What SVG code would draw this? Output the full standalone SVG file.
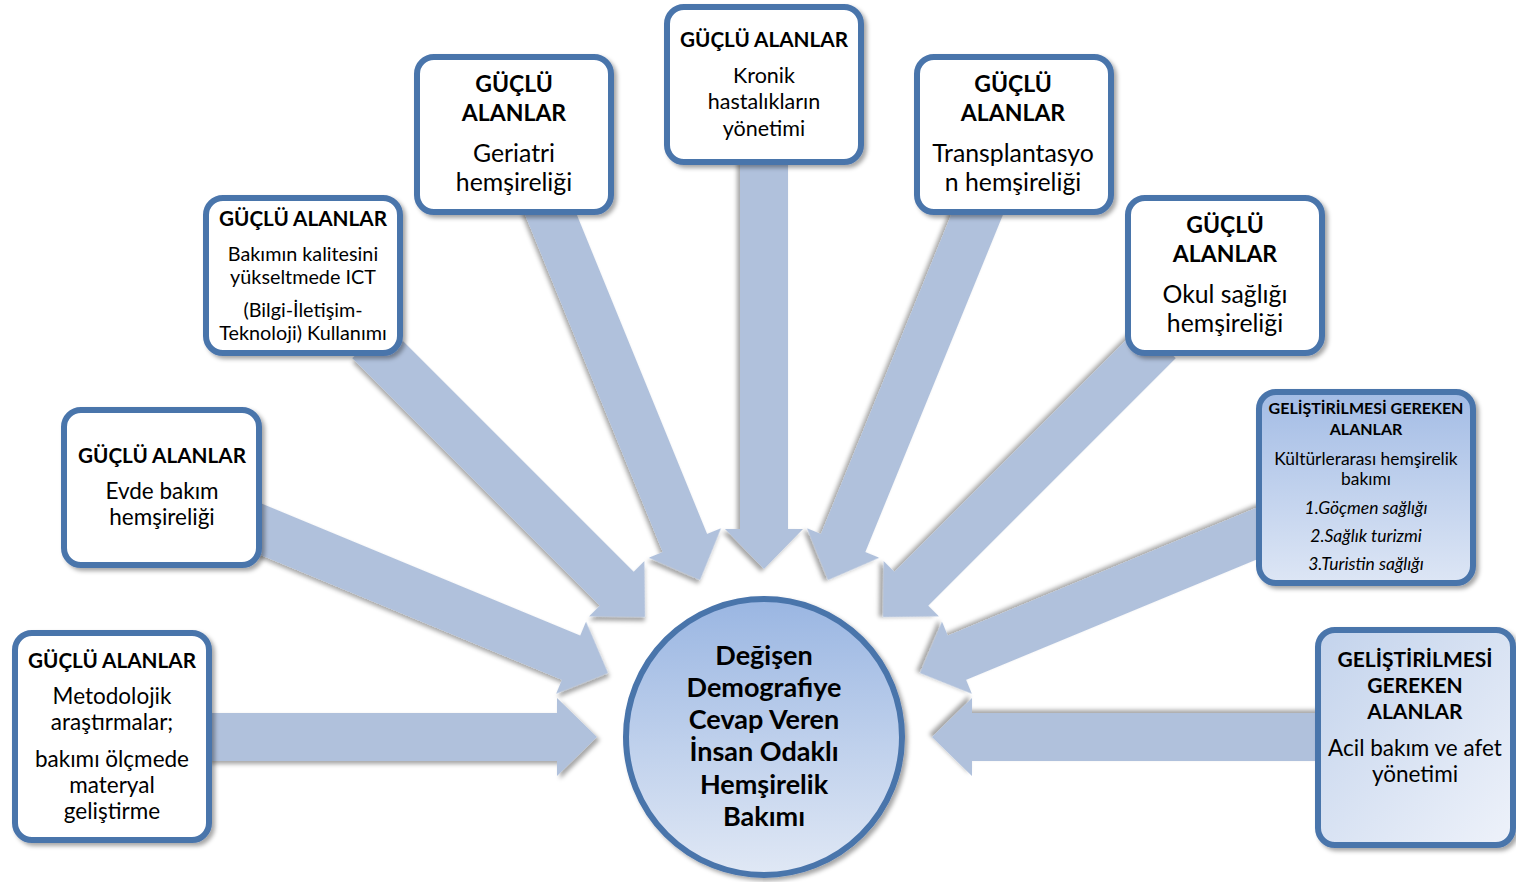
<svg xmlns="http://www.w3.org/2000/svg" width="1516" height="882" viewBox="0 0 1516 882">
<style>
.arrow{fill:#b0c1dc;filter:url(#sh)}
.box{fill:#ffffff;stroke:#4a74ab;stroke-width:6;filter:url(#sh)}
text{font-family:Lato,"Liberation Sans",sans-serif;fill:#000;text-anchor:middle}
.h{font-weight:bold;font-size:20.7px}
.hb{font-weight:bold;font-size:23px}
.t{font-size:22.5px}
.tl{font-size:24.8px}
.ts{font-size:19.8px}
.tk{font-size:21.5px}
.s8{font-size:17.4px}
.s8b{font-size:16px;font-weight:bold}
.i{font-style:italic;font-size:17.5px}
.c{font-weight:bold;font-size:27px}
</style>
<defs>
<filter id="sh" x="-10%" y="-10%" width="130%" height="130%">
<feDropShadow dx="3" dy="3" stdDeviation="2" flood-color="#000" flood-opacity="0.35"/>
</filter>
<linearGradient id="gc" x1="0" y1="0" x2="0" y2="1">
<stop offset="0" stop-color="#9ab6e2"/>
<stop offset="1" stop-color="#e0e8f5"/>
</linearGradient>
<linearGradient id="g8" x1="0" y1="0" x2="0" y2="1">
<stop offset="0" stop-color="#a3bce5"/>
<stop offset="1" stop-color="#dde6f5"/>
</linearGradient>
<linearGradient id="g9" x1="0" y1="0" x2="1" y2="1">
<stop offset="0" stop-color="#c3d3ec"/>
<stop offset="1" stop-color="#eef2fa"/>
</linearGradient>
</defs>
<rect width="1516" height="882" fill="#ffffff"/>
<g id="connectors">
<path class="arrow" transform="translate(597,737)" d="M0,0 L-40,-39 L-40,-24 L-390,-24 L-390,24 L-40,24 L-40,39 Z"/>
<path class="arrow" transform="translate(608,673) rotate(22.5)" d="M0,0 L-40,-39 L-40,-24 L-390,-24 L-390,24 L-40,24 L-40,39 Z"/>
<path class="arrow" transform="translate(645,617) rotate(45)" d="M0,0 L-40,-39 L-40,-24 L-390,-24 L-390,24 L-40,24 L-40,39 Z"/>
<path class="arrow" transform="translate(700,580) rotate(67.8)" d="M0,0 L-40,-39 L-40,-24 L-410,-24 L-410,24 L-40,24 L-40,39 Z"/>
<path class="arrow" transform="translate(764,569) rotate(90)" d="M0,0 L-40,-39 L-40,-24 L-410,-24 L-410,24 L-40,24 L-40,39 Z"/>
<path class="arrow" transform="translate(828,580) rotate(112.2)" d="M0,0 L-40,-39 L-40,-24 L-410,-24 L-410,24 L-40,24 L-40,39 Z"/>
<path class="arrow" transform="translate(883,617) rotate(135)" d="M0,0 L-40,-39 L-40,-24 L-390,-24 L-390,24 L-40,24 L-40,39 Z"/>
<path class="arrow" transform="translate(920,673) rotate(157.5)" d="M0,0 L-40,-39 L-40,-24 L-390,-24 L-390,24 L-40,24 L-40,39 Z"/>
<path class="arrow" transform="translate(932,737) rotate(180)" d="M0,0 L-40,-39 L-40,-24 L-390,-24 L-390,24 L-40,24 L-40,39 Z"/>
</g>
<g id="n1">
<rect class="box" x="15" y="633" width="194" height="207" rx="17"/>
<text class="h" x="112" y="668">GÜÇLÜ ALANLAR</text>
<text class="t" x="112" y="704">Metodolojik</text>
<text class="t" x="112" y="730">araştırmalar;</text>
<text class="t" x="112" y="767">bakımı ölçmede</text>
<text class="t" x="112" y="793">materyal</text>
<text class="t" x="112" y="819">geliştirme</text>
</g>
<g id="n2">
<rect class="box" x="64" y="410" width="195" height="155" rx="17"/>
<text class="h" x="162" y="463">GÜÇLÜ ALANLAR</text>
<text class="t" x="162" y="499">Evde bakım</text>
<text class="t" x="162" y="525">hemşireliği</text>
</g>
<g id="n3">
<rect class="box" x="206" y="198" width="194" height="155" rx="17"/>
<text class="h" x="303" y="226">GÜÇLÜ ALANLAR</text>
<text class="ts" x="303" y="261">Bakımın kalitesini</text>
<text class="ts" x="303" y="284">yükseltmede ICT</text>
<text class="ts" x="303" y="317">(Bilgi-İletişim-</text>
<text class="ts" x="303" y="340">Teknoloji) Kullanımı</text>
</g>
<g id="n4">
<rect class="box" x="417" y="57" width="194" height="155" rx="17"/>
<text class="hb" x="514" y="92">GÜÇLÜ</text>
<text class="hb" x="514" y="121">ALANLAR</text>
<text class="tl" x="514" y="162">Geriatri</text>
<text class="tl" x="514" y="191">hemşireliği</text>
</g>
<g id="n5">
<rect class="box" x="667" y="7" width="194" height="155" rx="17"/>
<text class="h" x="764" y="47">GÜÇLÜ ALANLAR</text>
<text class="tk" x="764" y="83">Kronik</text>
<text class="tk" x="764" y="109">hastalıkların</text>
<text class="tk" x="764" y="136">yönetimi</text>
</g>
<g id="n6">
<rect class="box" x="917" y="57" width="194" height="155" rx="17"/>
<text class="hb" x="1013" y="92">GÜÇLÜ</text>
<text class="hb" x="1013" y="121">ALANLAR</text>
<text class="tl" x="1013" y="162">Transplantasyo</text>
<text class="tl" x="1013" y="191">n hemşireliği</text>
</g>
<g id="n7">
<rect class="box" x="1128" y="198" width="194" height="155" rx="17"/>
<text class="hb" x="1225" y="233">GÜÇLÜ</text>
<text class="hb" x="1225" y="262">ALANLAR</text>
<text class="tl" x="1225" y="303">Okul sağlığı</text>
<text class="tl" x="1225" y="332">hemşireliği</text>
</g>
<g id="n8">
<rect class="box" x="1259" y="392" width="214" height="191" rx="17" style="fill:url(#g8)"/>
<text class="s8b" x="1366" y="414">GELİŞTİRİLMESİ GEREKEN</text>
<text class="s8b" x="1366" y="435">ALANLAR</text>
<text class="s8" x="1366" y="465">Kültürlerarası hemşirelik</text>
<text class="s8" x="1366" y="485">bakımı</text>
<text class="i" x="1366" y="514">1.Göçmen sağlığı</text>
<text class="i" x="1366" y="542">2.Sağlık turizmi</text>
<text class="i" x="1366" y="570">3.Turistin sağlığı</text>
</g>
<g id="n9">
<rect class="box" x="1318" y="630" width="195" height="215" rx="17" style="fill:url(#g9)"/>
<text class="h" x="1415" y="667" style="font-size:21px">GELİŞTİRİLMESİ</text>
<text class="h" x="1415" y="693" style="font-size:21px">GEREKEN</text>
<text class="h" x="1415" y="719" style="font-size:21px">ALANLAR</text>
<text class="t" x="1415" y="756">Acil bakım ve afet</text>
<text class="t" x="1415" y="782">yönetimi</text>
</g>
<g id="center">
<circle cx="764" cy="737" r="138" fill="url(#gc)" stroke="#4a74ab" stroke-width="6" filter="url(#sh)"/>
<text class="c" x="764" y="665">Değişen</text>
<text class="c" x="764" y="697">Demografiye</text>
<text class="c" x="764" y="729">Cevap Veren</text>
<text class="c" x="764" y="761">İnsan Odaklı</text>
<text class="c" x="764" y="794">Hemşirelik</text>
<text class="c" x="764" y="826">Bakımı</text>
</g>
</svg>
